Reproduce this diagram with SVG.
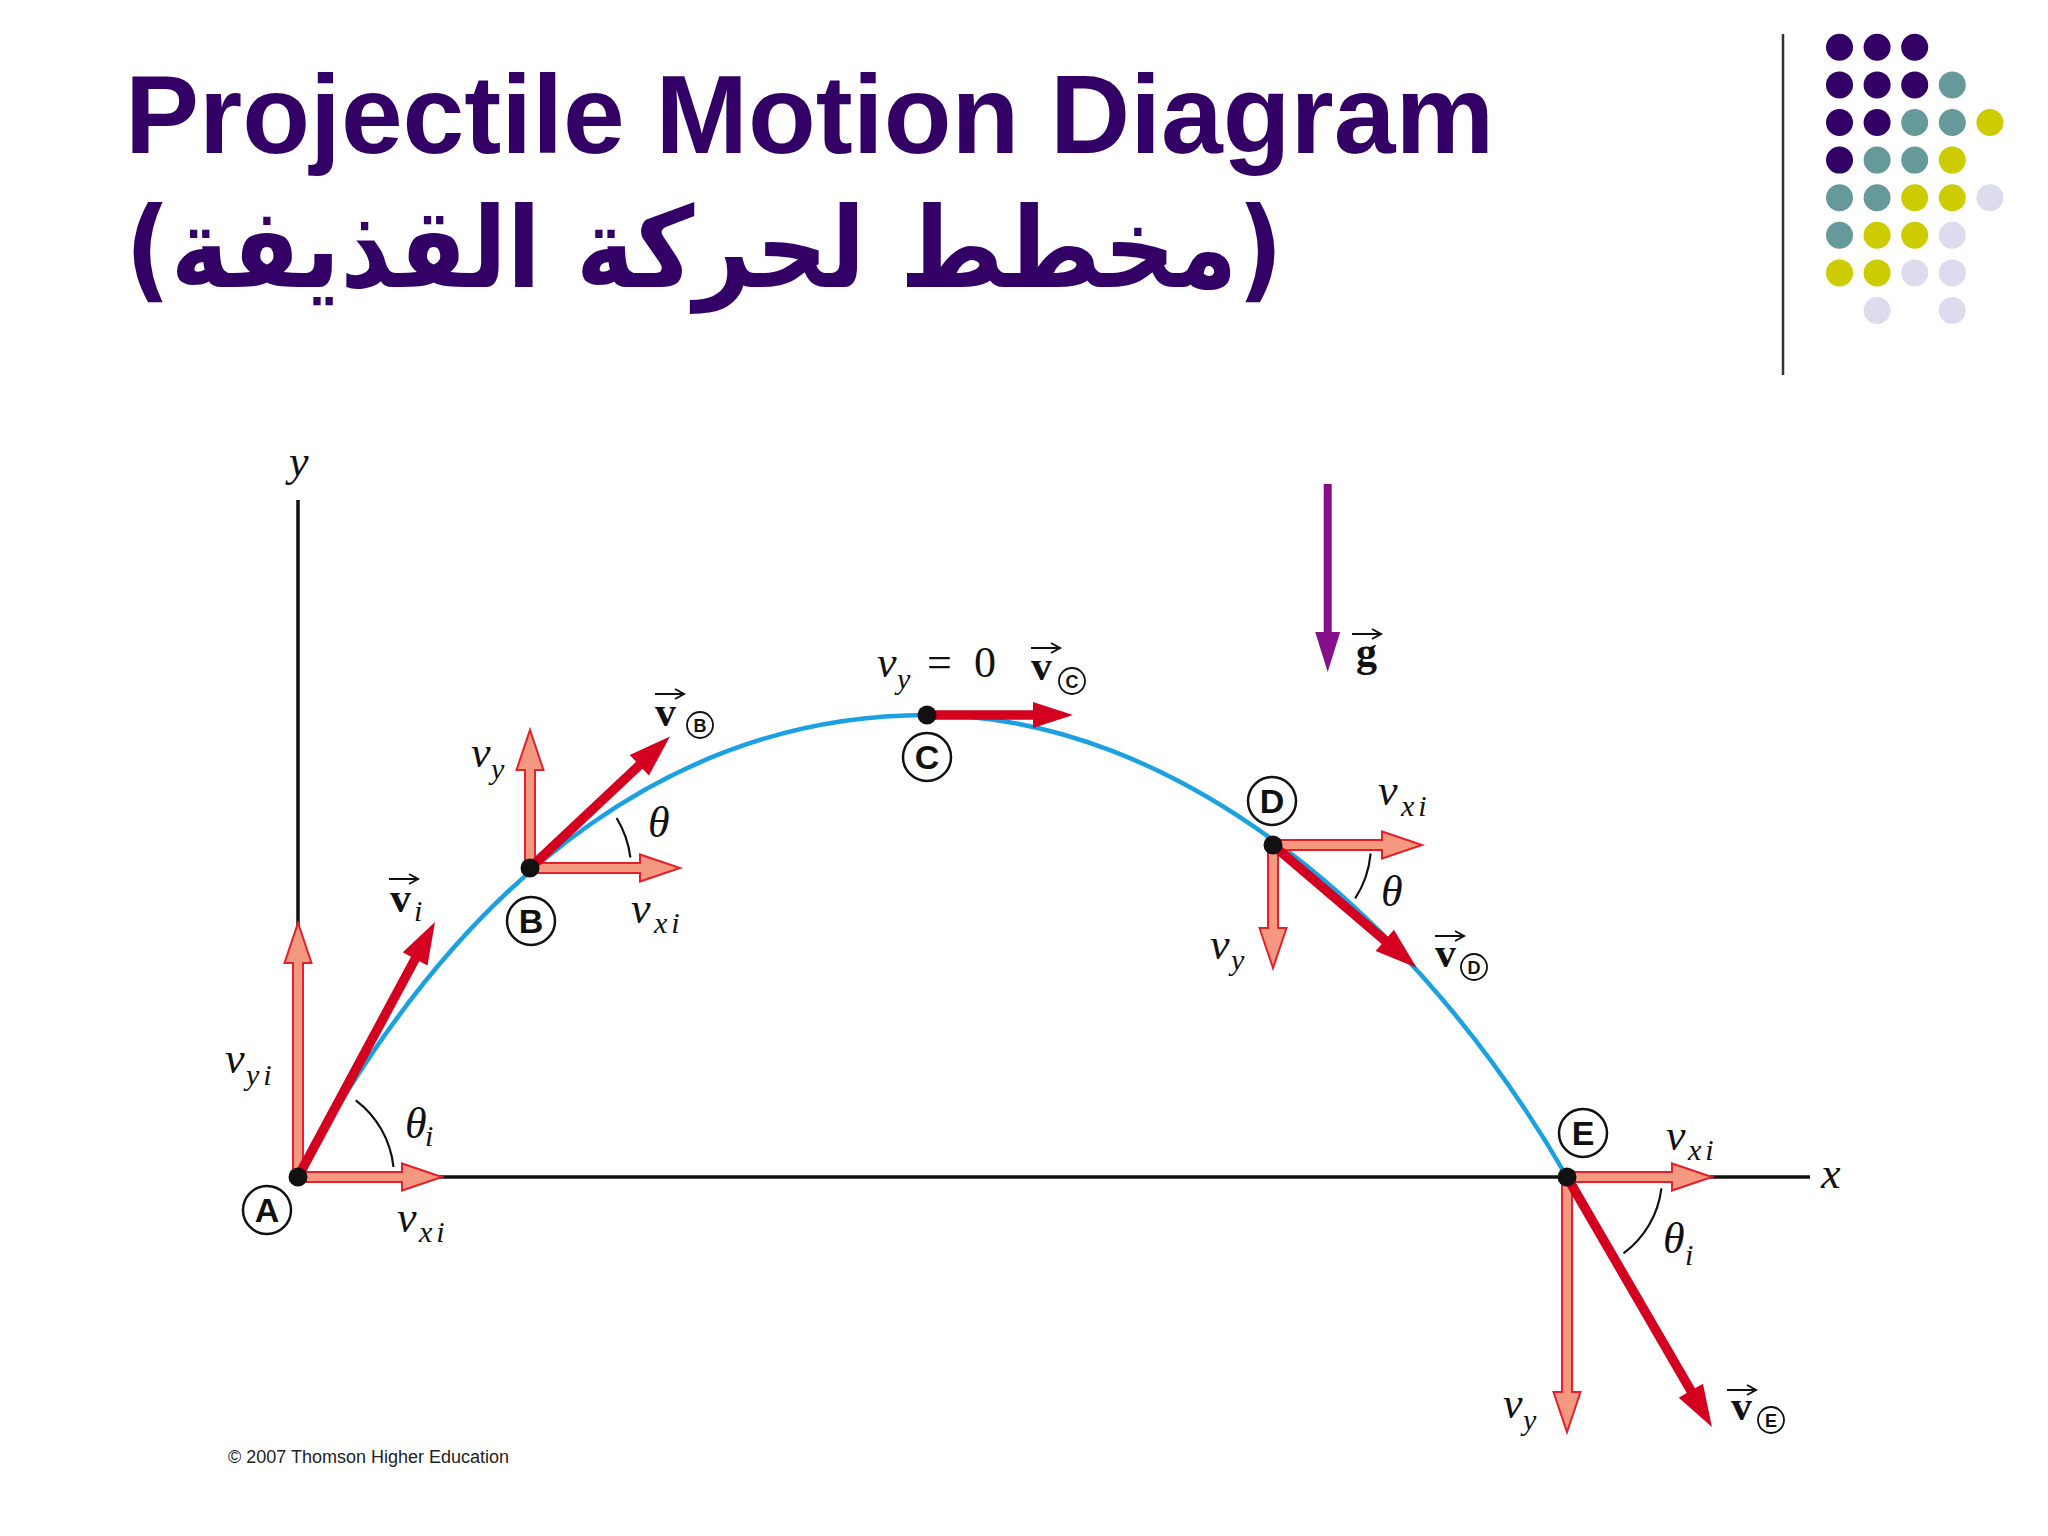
<svg xmlns="http://www.w3.org/2000/svg" xmlns:xlink="http://www.w3.org/1999/xlink" width="2048" height="1536" viewBox="0 0 2048 1536">
<style>
.title{font-family:"Liberation Sans",Arial,sans-serif;font-weight:bold;fill:#330066}
.ar{font-family:"DejaVu Sans","Noto Sans",sans-serif;font-weight:bold;fill:#330066}
.m{font-family:"Liberation Serif","Times New Roman",serif;font-style:italic;font-size:44px;fill:#111}
.s{font-family:"Liberation Serif","Times New Roman",serif;font-style:italic;font-size:30px;fill:#111;letter-spacing:4px}
.r{font-family:"Liberation Serif","Times New Roman",serif;font-size:44px;fill:#111}
.vb{font-family:"Liberation Serif","Times New Roman",serif;font-weight:bold;font-size:42px;fill:#111}
.cl{font-family:"Liberation Sans",Arial,sans-serif;font-weight:bold;font-size:34px;fill:#111;text-anchor:middle}
.cs{font-family:"Liberation Sans",Arial,sans-serif;font-weight:bold;font-size:18px;fill:#111;text-anchor:middle}
.ring{fill:none;stroke:#111;stroke-width:2.5}
.ringS{fill:none;stroke:#111;stroke-width:1.8}
.axis{stroke:#111;stroke-width:3.5;fill:none}
.curve{stroke:#1ba1e2;stroke-width:4.5;fill:none}
.pale{fill:#f4987f;stroke:#e3202b;stroke-width:2;stroke-linejoin:miter}
.dark{fill:#d40020;stroke:none}
.arc{fill:none;stroke:#111;stroke-width:2.2}
.dot{fill:#111}
.p{fill:#330066}.t{fill:#669999}.y{fill:#cccc00}.l{fill:#dcdcee}
</style>
<defs>
<path id="vec" d="M0,0 H28 M20,-5 L29,0 L20,5" fill="none" stroke="#111" stroke-width="2"/>
</defs>
<rect width="2048" height="1536" fill="#fff"/>

<g id="title">
<text class="title" x="125" y="153" font-size="111">Projectile Motion Diagram</text>
<text class="ar" transform="translate(125,287) scale(0.89,1)" x="0" y="0" font-size="112">(مخطط لحركة القذيفة)</text>
</g>

<g id="decor">
<line x1="1783" y1="34" x2="1783" y2="375" stroke="#333" stroke-width="2.5"/>
<g>
<circle class="p" cx="1839.5" cy="47.3" r="13.5"/><circle class="p" cx="1877.1" cy="47.3" r="13.5"/><circle class="p" cx="1914.7" cy="47.3" r="13.5"/>
<circle class="p" cx="1839.5" cy="84.9" r="13.5"/><circle class="p" cx="1877.1" cy="84.9" r="13.5"/><circle class="p" cx="1914.7" cy="84.9" r="13.5"/><circle class="t" cx="1952.3" cy="84.9" r="13.5"/>
<circle class="p" cx="1839.5" cy="122.5" r="13.5"/><circle class="p" cx="1877.1" cy="122.5" r="13.5"/><circle class="t" cx="1914.7" cy="122.5" r="13.5"/><circle class="t" cx="1952.3" cy="122.5" r="13.5"/><circle class="y" cx="1989.9" cy="122.5" r="13.5"/>
<circle class="p" cx="1839.5" cy="160.1" r="13.5"/><circle class="t" cx="1877.1" cy="160.1" r="13.5"/><circle class="t" cx="1914.7" cy="160.1" r="13.5"/><circle class="y" cx="1952.3" cy="160.1" r="13.5"/>
<circle class="t" cx="1839.5" cy="197.7" r="13.5"/><circle class="t" cx="1877.1" cy="197.7" r="13.5"/><circle class="y" cx="1914.7" cy="197.7" r="13.5"/><circle class="y" cx="1952.3" cy="197.7" r="13.5"/><circle class="l" cx="1989.9" cy="197.7" r="13.5"/>
<circle class="t" cx="1839.5" cy="235.3" r="13.5"/><circle class="y" cx="1877.1" cy="235.3" r="13.5"/><circle class="y" cx="1914.7" cy="235.3" r="13.5"/><circle class="l" cx="1952.3" cy="235.3" r="13.5"/>
<circle class="y" cx="1839.5" cy="272.9" r="13.5"/><circle class="y" cx="1877.1" cy="272.9" r="13.5"/><circle class="l" cx="1914.7" cy="272.9" r="13.5"/><circle class="l" cx="1952.3" cy="272.9" r="13.5"/>
<circle class="l" cx="1877.1" cy="310.5" r="13.5"/><circle class="l" cx="1952.3" cy="310.5" r="13.5"/>
</g>
</g>

<g id="axes">
<line class="axis" x1="298" y1="500" x2="298" y2="1177"/>
<line class="axis" x1="298" y1="1177" x2="1810" y2="1177"/>
<text class="m" x="289" y="476">y</text>
<text class="m" x="1821" y="1188">x</text>
</g>

<g id="connectors">
<path id="trajectory" class="curve" d="M298,1177 C471.7,850.3 697,715 927,715 C1177,715 1417,917.2 1567,1177"/>
<path class="arc" d="M393.5,1167 A96,96 0 0 0 355.8,1100.3"/>
<path class="arc" d="M630.4,857.5 A100,100 0 0 0 616.6,818"/>
<path class="arc" d="M1370.6,853.5 A98,98 0 0 1 1355.2,898.4"/>
<path class="arc" d="M1661.4,1188.3 A95,95 0 0 1 1623.5,1253.4"/>
<polygon class="pale" transform="translate(298,1177)" points="0,-5 104,-5 104,-13.5 144,0 104,13.5 104,5 0,5"/>
<polygon class="pale" transform="translate(298,1177) rotate(-90)" points="0,-5 214,-5 214,-13.5 254,0 214,13.5 214,5 0,5"/>
<polygon class="pale" transform="translate(530,868) rotate(-90)" points="0,-5 98,-5 98,-13.5 138,0 98,13.5 98,5 0,5"/>
<polygon class="pale" transform="translate(530,868)" points="0,-5 110,-5 110,-13.5 150,0 110,13.5 110,5 0,5"/>
<polygon class="pale" transform="translate(1273,845)" points="0,-5 109,-5 109,-13.5 149,0 109,13.5 109,5 0,5"/>
<polygon class="pale" transform="translate(1273,845) rotate(90)" points="0,-5 83,-5 83,-13.5 123,0 83,13.5 83,5 0,5"/>
<polygon class="pale" transform="translate(1567,1177)" points="0,-5 105,-5 105,-13.5 145,0 105,13.5 105,5 0,5"/>
<polygon class="pale" transform="translate(1567,1177) rotate(90)" points="0,-5 215,-5 215,-13.5 255,0 215,13.5 215,5 0,5"/>
<polygon class="dark" transform="translate(298,1177) rotate(-61.75)" points="0,-4.75 247.5,-4.75 247.5,-14 289.5,0 247.5,14 247.5,4.75 0,4.75"/>
<polygon class="dark" transform="translate(530,868) rotate(-43.2)" points="0,-4.75 150,-4.75 150,-14 192,0 150,14 150,4.75 0,4.75"/>
<polygon class="dark" transform="translate(927,715)" points="0,-4.75 106,-4.75 106,-13 146,0 106,13 106,4.75 0,4.75"/>
<polygon class="dark" transform="translate(1273,845) rotate(40.5)" points="0,-4.75 147,-4.75 147,-14 189,0 147,14 147,4.75 0,4.75"/>
<polygon class="dark" transform="translate(1567,1177) rotate(59.9)" points="0,-4.75 247,-4.75 247,-14 289,0 247,14 247,4.75 0,4.75"/>
<polygon fill="#86108a" points="1323.7,484 1331.7,484 1331.7,632 1340.2,632 1327.7,672 1315.2,632 1323.7,632"/>
</g>

<g id="node-A">
<circle class="dot" cx="298" cy="1177" r="9.5"/>
<circle class="ring" cx="267" cy="1210" r="24"/>
<text class="cl" x="267" y="1222">A</text>
<text class="m" x="225" y="1073">v</text><text class="s" x="246" y="1085">yi</text>
<text class="m" x="405" y="1138">θ</text><text class="s" x="425" y="1146">i</text>
<text class="m" x="397" y="1232">v</text><text class="s" x="419" y="1242">xi</text>
<use href="#vec" x="389" y="879"/>
<text class="vb" x="390" y="912">v</text><text class="s" x="414" y="921">i</text>
</g>

<g id="node-B">
<circle class="dot" cx="530" cy="868" r="9.5"/>
<circle class="ring" cx="531" cy="921" r="24"/>
<text class="cl" x="531" y="933">B</text>
<text class="m" x="471" y="767">v</text><text class="s" x="491" y="779">y</text>
<text class="m" x="648" y="837">θ</text>
<text class="m" x="631" y="923">v</text><text class="s" x="654" y="933">xi</text>
<use href="#vec" x="655" y="694"/>
<text class="vb" x="655" y="726">v</text>
<circle class="ringS" cx="700" cy="725" r="13"/><text class="cs" x="700" y="731.5">B</text>
</g>

<g id="node-C">
<circle class="dot" cx="927" cy="715" r="9.5"/>
<circle class="ring" cx="927" cy="757" r="24"/>
<text class="cl" x="927" y="769">C</text>
<text class="m" x="877" y="677">v</text><text class="s" x="897" y="689">y</text>
<text class="r" x="927" y="677">=</text><text class="r" x="974" y="677">0</text>
<use href="#vec" x="1031" y="648"/>
<text class="vb" x="1031" y="680">v</text>
<circle class="ringS" cx="1072" cy="681" r="13"/><text class="cs" x="1072" y="687.5">C</text>
</g>

<g id="node-D">
<circle class="dot" cx="1273" cy="845" r="9.5"/>
<circle class="ring" cx="1272" cy="801" r="24"/>
<text class="cl" x="1272" y="813">D</text>
<text class="m" x="1378" y="805">v</text><text class="s" x="1401" y="816">xi</text>
<text class="m" x="1381" y="906">θ</text>
<text class="m" x="1210" y="959">v</text><text class="s" x="1231" y="970">y</text>
<use href="#vec" x="1435" y="936"/>
<text class="vb" x="1435" y="967">v</text>
<circle class="ringS" cx="1474" cy="967" r="13"/><text class="cs" x="1474" y="973.5">D</text>
</g>

<g id="node-E">
<circle class="dot" cx="1567" cy="1177" r="9.5"/>
<circle class="ring" cx="1583" cy="1133" r="24"/>
<text class="cl" x="1583" y="1145">E</text>
<text class="m" x="1666" y="1150">v</text><text class="s" x="1688" y="1160">xi</text>
<text class="m" x="1663" y="1253">θ</text><text class="s" x="1685" y="1265">i</text>
<text class="m" x="1503" y="1418">v</text><text class="s" x="1523" y="1430">y</text>
<use href="#vec" x="1727" y="1390"/>
<text class="vb" x="1731" y="1420">v</text>
<circle class="ringS" cx="1771" cy="1420" r="13"/><text class="cs" x="1771" y="1426.5">E</text>
</g>

<g id="gravity-label">
<use href="#vec" x="1352" y="634"/>
<text class="vb" x="1356" y="666">g</text>
</g>

<text x="228" y="1463" font-family="Liberation Sans, Arial, sans-serif" font-size="18" fill="#222">© 2007 Thomson Higher Education</text>
</svg>
